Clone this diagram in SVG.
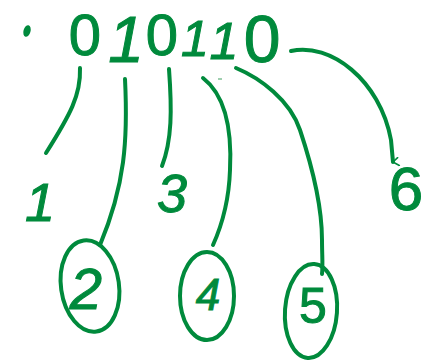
<svg xmlns="http://www.w3.org/2000/svg" width="424" height="361" viewBox="0 0 424 361">
<style>
.t{font-family:"Liberation Sans",Arial,sans-serif;fill:#008a3c;stroke:#008a3c;stroke-width:1;text-anchor:middle}
.s{fill:none;stroke:#008a3c;stroke-width:4;stroke-linecap:round;stroke-linejoin:round}
</style>
<defs>
<marker id="ah" viewBox="0 0 10 10" refX="5" refY="8" markerWidth="10" markerHeight="10" markerUnits="userSpaceOnUse" orient="auto">
<path d="M1,3 L5,8 L9,2" fill="none" stroke="#008a3c" stroke-width="1.6" stroke-linecap="round"/>
</marker>
</defs>
<rect width="424" height="361" fill="#fff"/>
<g id="bits">
<ellipse cx="27" cy="31" rx="3.5" ry="6" fill="#008a3c" transform="rotate(15 27 31)"/>
<text class="t" x="85" y="55" font-size="58">0</text>
<text class="t" x="126" y="62" font-size="64" font-style="italic">1</text>
<text class="t" x="162" y="55" font-size="58">0</text>
<text class="t" x="195" y="56" font-size="50" font-style="italic">1</text>
<text class="t" x="224" y="59" font-size="52" font-style="italic">1</text>
<text class="t" x="262" y="62" font-size="66">0</text>
<line x1="218" y1="79" x2="222" y2="79" stroke="#7fbf95" stroke-width="1.5"/>
</g>
<g id="connectors">
<path class="s" d="M80,68 C81,95 70,115 46,153"/>
<path class="s" d="M125,79 C128,140 125,185 100,245"/>
<path class="s" d="M169,69 C172,110 172,140 162,166"/>
<path class="s" d="M203,78 C225,95 232,130 230,170 C229,200 222,225 213,245"/>
<path class="s" d="M236,68 C260,78 290,100 300,130 C315,175 322,210 322,240 C322,255 323,265 322,274"/>
<path class="s" d="M291,51 C330,42 380,80 391,140 L393,162" marker-end="url(#ah)"/>
</g>
<g id="label-1"><text class="t" x="40" y="221" font-size="54" font-style="italic">1</text></g>
<g id="label-3"><text class="t" x="172" y="212" font-size="54" font-style="italic">3</text></g>
<g id="label-6"><text class="t" x="406" y="210" font-size="62">6</text></g>
<g id="node-2">
<ellipse class="s" cx="90" cy="286" rx="29" ry="46" transform="rotate(-8 90 286)"/>
<text class="t" x="86" y="309" font-size="58" font-style="italic">2</text>
</g>
<g id="node-4">
<ellipse class="s" cx="207" cy="296" rx="27" ry="44"/>
<text class="t" x="208" y="310" font-size="44" font-style="italic">4</text>
</g>
<g id="node-5">
<ellipse class="s" cx="311" cy="311" rx="26" ry="47" transform="rotate(4 311 311)"/>
<text class="t" x="313" y="323" font-size="50">5</text>
</g>
</svg>
